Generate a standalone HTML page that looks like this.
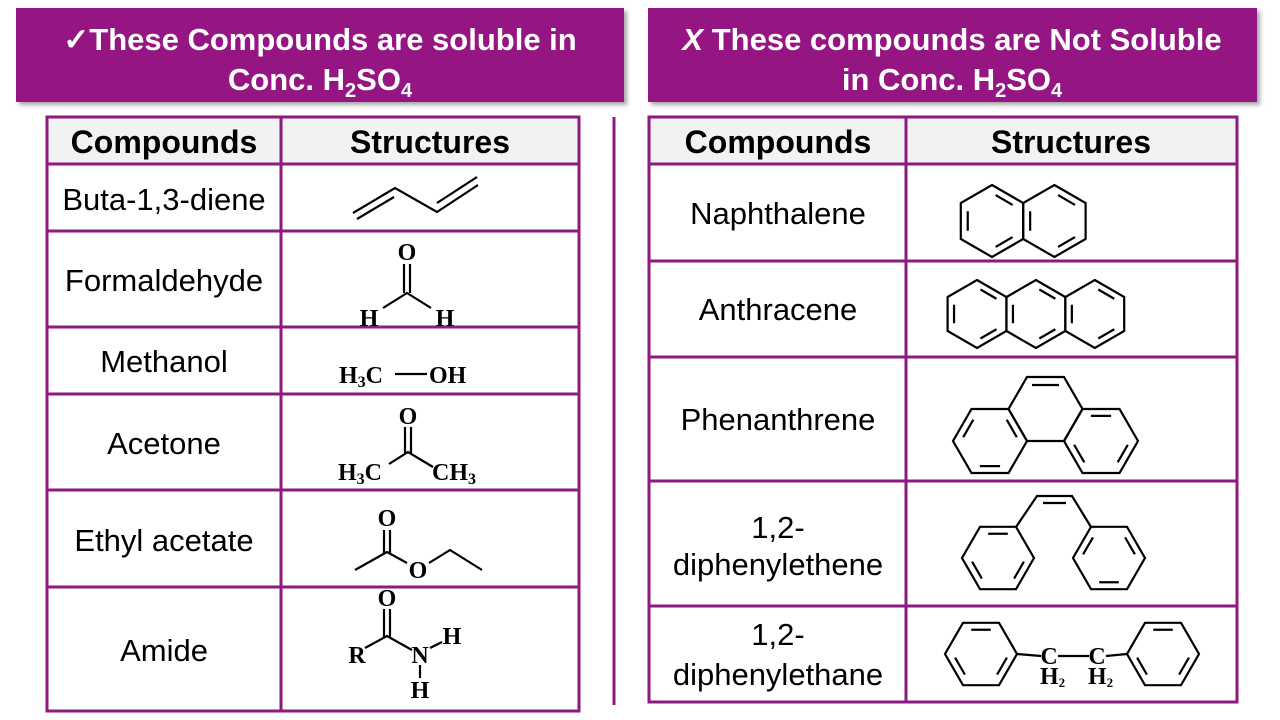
<!DOCTYPE html>
<html><head><meta charset="utf-8"><style>
html,body{margin:0;padding:0;background:#fff;}
svg{display:block;}
.h{font-family:"Liberation Sans",Arial,sans-serif;font-weight:bold;fill:#fff;font-size:31px;}
.th{font-family:"Liberation Sans",Arial,sans-serif;font-weight:bold;fill:#000;font-size:32px;}
.td{font-family:"Liberation Sans",Arial,sans-serif;fill:#000;font-size:31px;}
.c{font-family:"Liberation Serif","Times New Roman",serif;font-weight:bold;fill:#000;font-size:24px;}
</style></head><body>
<svg width="1280" height="720" viewBox="0 0 1280 720" xmlns="http://www.w3.org/2000/svg">
<defs>
<filter id="sh" x="-5%" y="-10%" width="110%" height="130%"><feDropShadow dx="3" dy="3" stdDeviation="2" flood-color="#000" flood-opacity="0.35"/></filter>
<path id="p36" d="M0,-36 L31.2,-18 L31.2,18 L0,36 L-31.2,18 L-31.2,-18Z" fill="none" stroke="#000" stroke-width="2.2"/>
<path id="p36i" d="M0,-28 L24.25,-14 L24.25,14 L0,28 L-24.25,14 L-24.25,-14Z" fill="none" stroke="#000" stroke-width="2.2" stroke-dasharray="0 4.2 19.6 32.2"/>
<path id="p34" d="M0,-34 L29.4,-17 L29.4,17 L0,34 L-29.4,17 L-29.4,-17Z" fill="none" stroke="#000" stroke-width="2.2"/>
<path id="p34i" d="M0,-26.5 L22.95,-13.25 L22.95,13.25 L0,26.5 L-22.95,13.25 L-22.95,-13.25Z" fill="none" stroke="#000" stroke-width="2.2" stroke-dasharray="0 4 18.5 30.5"/>
<path id="f37" d="M-18.5,-32 L18.5,-32 L37,0 L18.5,32 L-18.5,32 L-37,0Z" fill="none" stroke="#000" stroke-width="2.2"/>
<path id="f37i" d="M-14.5,-25.1 L14.5,-25.1 L29,0 L14.5,25.1 L-14.5,25.1 L-29,0Z" fill="none" stroke="#000" stroke-width="2.2" stroke-dasharray="0 4.4 20.2 33.4"/>
<path id="f37j" d="M14.5,-25.1 L29,0 L14.5,25.1 L-14.5,25.1 L-29,0 L-14.5,-25.1Z" fill="none" stroke="#000" stroke-width="2.2" stroke-dasharray="0 4.4 20.2 33.4"/>
<path id="f36" d="M-18,-31.2 L18,-31.2 L36,0 L18,31.2 L-18,31.2 L-36,0Z" fill="none" stroke="#000" stroke-width="2.2"/>
<path id="f36i" d="M-14,-24.25 L14,-24.25 L28,0 L14,24.25 L-14,24.25 L-28,0Z" fill="none" stroke="#000" stroke-width="2.2" stroke-dasharray="0 4.2 19.6 32.2"/>
<path id="f36j" d="M14,-24.25 L28,0 L14,24.25 L-14,24.25 L-28,0 L-14,-24.25Z" fill="none" stroke="#000" stroke-width="2.2" stroke-dasharray="0 4.2 19.6 32.2"/>
</defs>

<rect x="16" y="8" width="608" height="94" fill="#951282" filter="url(#sh)"/>
<text class="h" x="320" y="50" text-anchor="middle">✓These Compounds are soluble in</text>
<text class="h" x="320" y="90" text-anchor="middle">Conc. H<tspan font-size="20" dy="7">2</tspan><tspan dy="-7">SO</tspan><tspan font-size="20" dy="7">4</tspan></text>

<rect x="648" y="8" width="609" height="94" fill="#951282" filter="url(#sh)"/>
<text class="h" x="952" y="50" text-anchor="middle"><tspan font-style="italic">X</tspan> These compounds are Not Soluble</text>
<text class="h" x="952" y="90" text-anchor="middle">in Conc. H<tspan font-size="20" dy="7">2</tspan><tspan dy="-7">SO</tspan><tspan font-size="20" dy="7">4</tspan></text>

<line x1="614" y1="117" x2="614" y2="705" stroke="#8e1a80" stroke-width="3"/>

<rect x="47" y="117" width="532" height="47" fill="#f2f2f2"/>
<g stroke="#8e1a80" stroke-width="3" fill="none">
<rect x="47" y="117" width="532" height="594"/>
<line x1="281" y1="117" x2="281" y2="711"/>
<line x1="47" y1="164" x2="579" y2="164"/>
<line x1="47" y1="231" x2="579" y2="231"/>
<line x1="47" y1="327" x2="579" y2="327"/>
<line x1="47" y1="394" x2="579" y2="394"/>
<line x1="47" y1="490" x2="579" y2="490"/>
<line x1="47" y1="587" x2="579" y2="587"/>
</g>
<text class="th" x="164" y="153" text-anchor="middle">Compounds</text>
<text class="th" x="430" y="153" text-anchor="middle">Structures</text>
<text class="td" x="164" y="210" text-anchor="middle">Buta-1,3-diene</text>
<text class="td" x="164" y="291" text-anchor="middle">Formaldehyde</text>
<text class="td" x="164" y="372" text-anchor="middle">Methanol</text>
<text class="td" x="164" y="454" text-anchor="middle">Acetone</text>
<text class="td" x="164" y="551" text-anchor="middle">Ethyl acetate</text>
<text class="td" x="164" y="661" text-anchor="middle">Amide</text>

<rect x="649" y="117" width="588" height="47" fill="#f2f2f2"/>
<g stroke="#8e1a80" stroke-width="3" fill="none">
<rect x="649" y="117" width="588" height="585"/>
<line x1="906" y1="117" x2="906" y2="702"/>
<line x1="649" y1="164" x2="1237" y2="164"/>
<line x1="649" y1="261" x2="1237" y2="261"/>
<line x1="649" y1="357" x2="1237" y2="357"/>
<line x1="649" y1="481" x2="1237" y2="481"/>
<line x1="649" y1="606" x2="1237" y2="606"/>
</g>
<text class="th" x="778" y="153" text-anchor="middle">Compounds</text>
<text class="th" x="1071" y="153" text-anchor="middle">Structures</text>
<text class="td" x="778" y="224" text-anchor="middle">Naphthalene</text>
<text class="td" x="778" y="320" text-anchor="middle">Anthracene</text>
<text class="td" x="778" y="430" text-anchor="middle">Phenanthrene</text>
<text class="td" x="778" y="538" text-anchor="middle">1,2-</text>
<text class="td" x="778" y="575" text-anchor="middle">diphenylethene</text>
<text class="td" x="778" y="645" text-anchor="middle">1,2-</text>
<text class="td" x="778" y="685" text-anchor="middle">diphenylethane</text>

<g stroke="#000" stroke-width="2.2" fill="none">
<polyline points="353,213 395,188 437,212 478,185"/>
<line x1="357" y1="219" x2="394" y2="197"/>
<line x1="437" y1="203" x2="477" y2="177"/>
<line x1="404" y1="264" x2="404" y2="293"/>
<line x1="410" y1="264" x2="410" y2="293"/>
<polyline points="383,308 407,293 431,308"/>
<line x1="395" y1="374" x2="427" y2="374"/>
<line x1="405" y1="427" x2="405" y2="453"/>
<line x1="411" y1="427" x2="411" y2="453"/>
<polyline points="389,464 408,452 433,467"/>
<line x1="384" y1="530" x2="384" y2="553"/>
<line x1="390" y1="530" x2="390" y2="553"/>
<polyline points="355,570 387,552 407,563"/>
<polyline points="429,563 450,550 482,570"/>
<line x1="384" y1="609" x2="384" y2="637"/>
<line x1="390" y1="609" x2="390" y2="637"/>
<polyline points="365,648 387,636 412,650"/>
<line x1="430" y1="648" x2="442" y2="642"/>
<line x1="420" y1="665" x2="420" y2="678"/>
</g>
<text class="c" x="407" y="260" text-anchor="middle">O</text>
<text class="c" x="369" y="326" text-anchor="middle">H</text>
<text class="c" x="445" y="326" text-anchor="middle">H</text>
<text class="c" x="339" y="383">H<tspan font-size="16" dy="4">3</tspan><tspan dy="-4">C</tspan></text>
<text class="c" x="429" y="383">OH</text>
<text class="c" x="408" y="424" text-anchor="middle">O</text>
<text class="c" x="338" y="480">H<tspan font-size="16" dy="4">3</tspan><tspan dy="-4">C</tspan></text>
<text class="c" x="432" y="480">CH<tspan font-size="16" dy="4">3</tspan></text>
<text class="c" x="387" y="526" text-anchor="middle">O</text>
<text class="c" x="418" y="578" text-anchor="middle">O</text>
<text class="c" x="387" y="606" text-anchor="middle" font-size="20">O</text>
<text class="c" x="357" y="663" text-anchor="middle" font-size="20">R</text>
<text class="c" x="420" y="663" text-anchor="middle" font-size="20">N</text>
<text class="c" x="452" y="644" text-anchor="middle" font-size="20">H</text>
<text class="c" x="420" y="698" text-anchor="middle" font-size="20">H</text>

<use href="#p36" transform="translate(992,221)"/>
<use href="#p36i" transform="translate(992,221)"/>
<use href="#p36" transform="translate(1054.4,221)"/>
<use href="#p36i" transform="translate(1054.4,221)"/>
<use href="#p34" transform="translate(977,314)"/>
<use href="#p34i" transform="translate(977,314)"/>
<use href="#p34" transform="translate(1035.9,314)"/>
<use href="#p34i" transform="translate(1035.9,314)"/>
<use href="#p34" transform="translate(1094.8,314)"/>
<use href="#p34i" transform="translate(1094.8,314)"/>
<use href="#f37" transform="translate(990,441)"/>
<use href="#f37j" transform="translate(990,441)"/>
<use href="#f37" transform="translate(1045.5,409)"/>
<use href="#f37" transform="translate(1101,441)"/>
<use href="#f37i" transform="translate(1101,441)"/>
<line x1="1032" y1="385" x2="1059" y2="385" stroke="#000" stroke-width="2.2"/>
<use href="#f36" transform="translate(998,558)"/>
<use href="#f36i" transform="translate(998,558)"/>
<use href="#f36" transform="translate(1109,558)"/>
<use href="#f36j" transform="translate(1109,558)"/>
<g stroke="#000" stroke-width="2.2" fill="none">
<polyline points="1016,527 1037,496 1072,496 1091,527"/>
<line x1="1043" y1="503" x2="1066" y2="503"/>
</g>
<use href="#f36" transform="translate(981,654)"/>
<use href="#f36i" transform="translate(981,654)"/>
<use href="#f36" transform="translate(1163,654)"/>
<use href="#f36i" transform="translate(1163,654)"/>
<g stroke="#000" stroke-width="2.2" fill="none">
<line x1="1017" y1="654" x2="1041" y2="656"/>
<line x1="1058" y1="656" x2="1089" y2="656"/>
<line x1="1106" y1="656" x2="1127" y2="654"/>
</g>
<text class="c" x="1049" y="664" text-anchor="middle" font-size="20">C</text>
<text class="c" x="1097" y="664" text-anchor="middle" font-size="20">C</text>
<text class="c" x="1040" y="684" font-size="19">H<tspan font-size="13" dy="3">2</tspan></text>
<text class="c" x="1088" y="684" font-size="19">H<tspan font-size="13" dy="3">2</tspan></text>
</svg>
</body></html>
